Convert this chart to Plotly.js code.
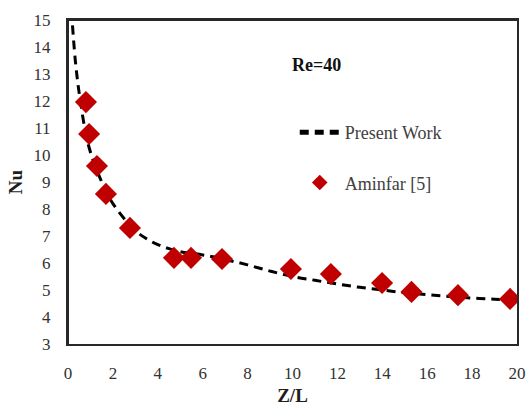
<!DOCTYPE html>
<html><head><meta charset="utf-8">
<script src="https://cdn.plot.ly/plotly-3.0.1.min.js"></script>
<style>body{margin:0;padding:0;background:#fff}#wrap{position:relative;width:530px;height:417px}#chart{width:530px;height:417px}#frame{position:absolute;left:67px;top:19px;width:448px;height:323px;border:2px solid rgb(40,40,40);pointer-events:none}</style>
</head><body><div id="wrap"><div id="chart"></div><div id="frame"></div></div>
<script>
const lineX = [0.2,0.35,0.55,0.9,1.4,2,3,3.5,4,4.5,5,6,7,8,9,10,11,12,13,14,15,16,17,18,19,19.9];
const lineY = [14.8,13.3,12.0,10.4,9.2,8.2,7.2,6.9,6.68,6.53,6.42,6.3,6.13,5.93,5.7,5.5,5.36,5.22,5.1,5.0,4.9,4.83,4.76,4.7,4.66,4.63];
const expX = [0.8,0.94,1.29,1.69,2.76,4.72,5.48,6.86,9.93,11.71,13.99,15.3,17.37,19.69];
const expY = [11.96,10.78,9.59,8.56,7.3,6.19,6.19,6.15,5.78,5.59,5.26,4.93,4.81,4.67];
const xTicks = [0,2,4,6,8,10,12,14,16,18,20];
const yTicks = [3,4,5,6,7,8,9,10,11,12,13,14,15];

const serif = "Liberation Serif";
const axisCol = 'rgb(40,40,40)';
const data = [
  {x: lineX, y: lineY, mode: 'lines', name: 'Present Work', legendgroup: 'a', line: {color: 'black', width: 3, dash: '9px,6px', shape: 'spline'}},
  {x: expX, y: expY, mode: 'markers', name: 'Aminfar [5]', legendgroup: 'b', marker: {symbol: 'diamond', size: 17, color: 'rgb(192,0,0)'}}
];
const layout = {
  width: 530, height: 417,
  margin: {l: 68, r: 13, t: 20, b: 73},
  font: {family: serif, color: 'rgb(50,50,50)', size: 16},
  showlegend: true,
  legend: {x: 0.505, y: 0.71, xanchor: 'left', yanchor: 'top', bgcolor: 'rgba(0,0,0,0)', font: {family: serif, size: 18, color: 'rgb(64,64,64)'}, tracegroupgap: 24, itemsizing: 'constant', itemwidth: 40},
  xaxis: {range: [0, 20], tickvals: xTicks, ticktext: xTicks.map(String), showgrid: false, zeroline: false,
    showline: true, mirror: true, linecolor: axisCol, linewidth: 2, ticks: 'outside', ticklen: 13, tickcolor: 'rgba(255,255,255,0)',
    tickfont: {family: serif, size: 17, color: 'rgb(50,50,50)'},
    title: {text: '<b>Z/L</b>', font: {family: serif, size: 19, color: 'rgb(30,30,30)'}, standoff: 6}},
  yaxis: {range: [3, 15], tickvals: yTicks, ticktext: yTicks.map(String), showgrid: false, zeroline: false,
    showline: true, mirror: true, linecolor: axisCol, linewidth: 2, ticks: 'outside', ticklen: 12, tickcolor: 'rgba(255,255,255,0)',
    tickfont: {family: serif, size: 17, color: 'rgb(50,50,50)'},
    title: {text: '<b>Nu</b>', font: {family: serif, size: 19, color: 'rgb(30,30,30)'}, standoff: 6}},
  annotations: [{x: 0.495, y: 0.86, xref: 'paper', yref: 'paper', xanchor: 'left', yanchor: 'middle', showarrow: false,
    text: '<b>Re=40</b>', font: {family: serif, size: 18, color: 'rgb(17,17,17)'}}]
};
Plotly.newPlot('chart', data, layout, {displayModeBar: false});
</script></body></html>
